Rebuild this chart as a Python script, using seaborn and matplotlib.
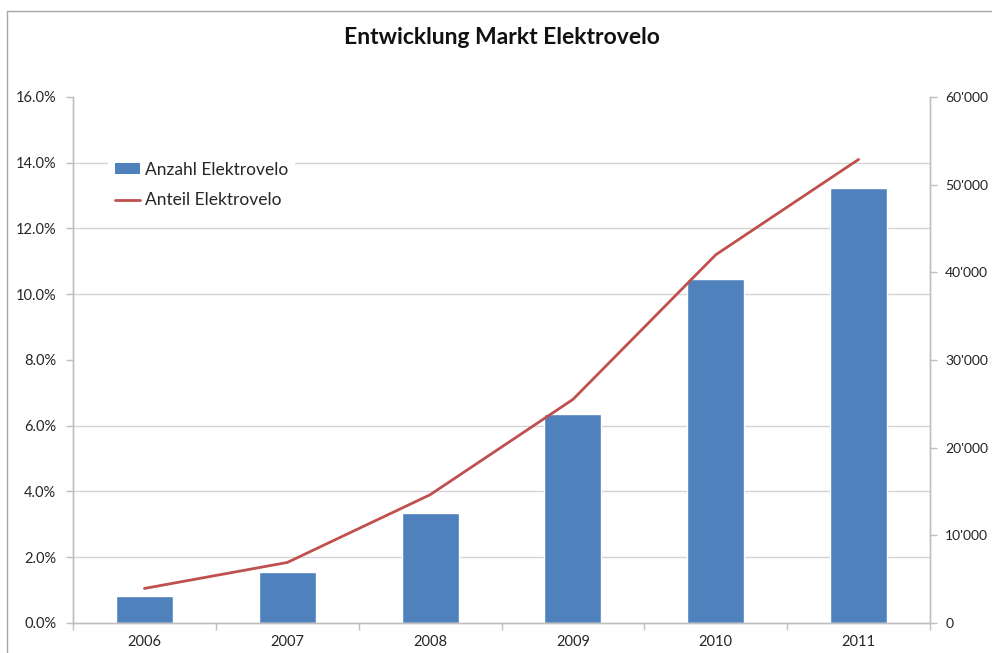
import matplotlib
matplotlib.use("Agg")
import matplotlib.pyplot as plt
import matplotlib.ticker as mticker
from matplotlib.lines import Line2D
from matplotlib.patches import Patch
import seaborn as sns
import pandas as pd

# Marktdaten Elektrovelo Schweiz
years = ["2006", "2007", "2008", "2009", "2010", "2011"]
anzahl = [3100, 5800, 12500, 23800, 39200, 49600]      # verkaufte Elektrovelos
anteil = [1.05, 1.84, 3.9, 6.8, 11.2, 14.1]            # Anteil am Velomarkt in %

df = pd.DataFrame({"Jahr": years, "Anzahl": anzahl, "Anteil": anteil})

sns.set_theme(style="white")
plt.rcParams["font.family"] = ["Lato", "DejaVu Sans"]

BLUE = "#4F81BD"
RED = "#C0504D"
GRID = "#D4D4D4"
SPINE = "#BFBFBF"
TEXT = "#262626"

fig = plt.figure(figsize=(9.92, 6.53), dpi=100)
ax = fig.add_axes([0.0736, 0.046, 0.8639, 0.8055])
ax2 = ax.twinx()

# Balken: Anzahl (rechte Achse)
sns.barplot(data=df, x="Jahr", y="Anzahl", color=BLUE, width=0.4,
            saturation=1, ax=ax, zorder=2)
# Linie: Anteil (linke Achse)
sns.lineplot(data=df, x="Jahr", y="Anteil", color=RED, linewidth=2.0,
             ax=ax2, sort=False)

ax.set_ylim(0, 60000)
ax.set_xlim(-0.5, len(years) - 0.5)
ax2.set_ylim(0, 16)
ax2.set_xlim(-0.5, len(years) - 0.5)

ax.yaxis.tick_right()
ax.yaxis.set_label_position("right")
ax2.yaxis.tick_left()
ax2.yaxis.set_label_position("left")

ax.yaxis.set_major_locator(mticker.MultipleLocator(10000))
ax.yaxis.set_major_formatter(
    mticker.FuncFormatter(lambda v, p: f"{v:,.0f}".replace(",", "'")))
# Gitterlinien im 2%-Raster der linken Achse (60'000 / 8)
ax.yaxis.set_minor_locator(mticker.MultipleLocator(7500))
ax.grid(which="minor", axis="y", color=GRID, linewidth=1.0, zorder=0)
ax.grid(which="major", axis="y", visible=False)
ax.set_axisbelow(True)
ax.tick_params(axis="y", which="minor", length=0, right=False, left=False)
ax.tick_params(axis="y", which="major", length=5, color=SPINE, width=1,
               labelsize=10, labelcolor=TEXT, pad=6, right=True, left=False,
               labelright=True, labelleft=False)

ax2.yaxis.set_major_locator(mticker.MultipleLocator(2))
ax2.yaxis.set_major_formatter(mticker.FuncFormatter(lambda v, p: f"{v:.1f}%"))
ax2.tick_params(axis="y", length=5, color=SPINE, width=1, labelsize=10.5,
                labelcolor=TEXT, pad=7, left=True, right=False,
                labelleft=True, labelright=False)

# Kategorie-Achse: Striche zwischen den Jahren
ax.xaxis.set_minor_locator(mticker.FixedLocator(
    [i + 0.5 for i in range(-1, len(years))]))
ax.tick_params(axis="x", which="major", length=0, labelsize=10.5,
               labelcolor=TEXT, pad=9)
ax.tick_params(axis="x", which="minor", length=5, color=SPINE, width=1,
               bottom=True)
ax2.tick_params(axis="x", which="both", length=0)

for a in (ax, ax2):
    a.set_xlabel("")
    a.set_ylabel("")
    a.spines["top"].set_visible(False)
    for s in ("left", "right", "bottom"):
        a.spines[s].set_color(SPINE)
        a.spines[s].set_linewidth(1)

ax.set_title("Entwicklung Markt Elektrovelo", fontsize=16.5, fontweight="bold",
             color="#111111", pad=38)

handles = [Patch(facecolor=BLUE, edgecolor="none", label="Anzahl Elektrovelo"),
           Line2D([], [], color=RED, linewidth=2.0, label="Anteil Elektrovelo")]
leg = ax2.legend(handles=handles, loc="upper left",
                 bbox_to_anchor=(0.031, 0.907), frameon=True, fancybox=False,
                 edgecolor="none", facecolor="white", framealpha=1,
                 fontsize=12.5, handlelength=1.45, handleheight=0.55,
                 handletextpad=0.25, labelspacing=0.85, borderpad=0.4)
for t in leg.get_texts():
    t.set_color(TEXT)

# Rahmen des Diagrammbereichs
fig.add_artist(Line2D([7 / 992, 1.0], [1 - 11 / 653, 1 - 11 / 653],
                      transform=fig.transFigure, color="#A6A6A6", linewidth=1))
fig.add_artist(Line2D([7 / 992, 7 / 992], [0.0, 1 - 11 / 653],
                      transform=fig.transFigure, color="#A6A6A6", linewidth=1))

fig.savefig("out.png", dpi=100, facecolor="white")
